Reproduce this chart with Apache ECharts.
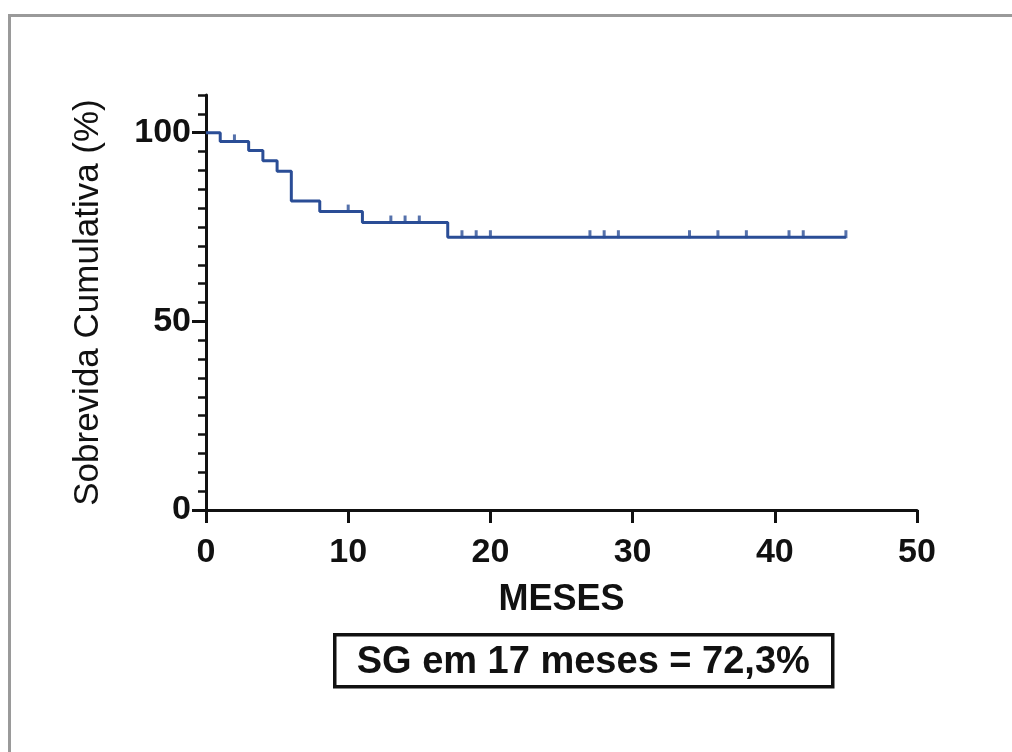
<!DOCTYPE html>
<html>
<head>
<meta charset="utf-8">
<script src="https://cdn.jsdelivr.net/npm/echarts@6/dist/echarts.min.js"></script>
<style>
  html, body { margin: 0; padding: 0; background: #fff; }
  #chart { width: 1012px; height: 752px; }
</style>
</head>
<body>
<div id="chart"></div>
<script>
// Kaplan-Meier overall survival: event times (months) and survival after each step (%)
const eventMonths = [0, 1, 3, 4, 5, 6, 8, 11, 17, 45];
const survivalPct = [100, 97.7, 95.3, 92.6, 89.8, 81.9, 79.1, 76.2, 72.3, 72.3];
// Censored patients (months of last follow-up)
const censorMonths = [2, 10, 13, 14, 15, 18, 19, 20, 27, 28, 29, 34, 36, 38, 41, 42, 45];
// Axis ticks
const xTicks = [0, 10, 20, 30, 40, 50];
const yMajorTicks = [0, 50, 100];
const annotation = 'SG em 17 meses = 72,3%';

// survival level in force at time t (step function from the event arrays)
function survivalAt(t) {
  let s = survivalPct[0];
  for (let i = 0; i < eventMonths.length; i++) {
    if (eventMonths[i] <= t) s = survivalPct[i];
  }
  return s;
}

const curveData = eventMonths.map((m, i) => [m, survivalPct[i]]);
const censorData = censorMonths.map(m => [m, survivalAt(m)]);

const FONT = '"Liberation Sans", Arial, sans-serif';
const BLUE = '#2a4d96';

const chart = echarts.init(document.getElementById('chart'), null, { renderer: 'canvas' });
chart.setOption({
  animation: false,
  backgroundColor: '#ffffff',
  grid: { left: 206, right: 95, top: 95, bottom: 242, containLabel: false },
  xAxis: {
    type: 'value',
    min: xTicks[0],
    max: xTicks[xTicks.length - 1],
    interval: 10,
    name: 'MESES',
    nameLocation: 'middle',
    nameGap: 72,
    nameTextStyle: { fontFamily: FONT, fontWeight: 'bold', fontSize: 36, color: '#111' },
    axisLine: { onZero: false, lineStyle: { color: '#111', width: 3 } },
    axisTick: { show: true, inside: false, length: 13, lineStyle: { color: '#111', width: 3 } },
    axisLabel: { margin: 26, fontFamily: FONT, fontWeight: 'bold', fontSize: 34, color: '#111' },
    splitLine: { show: false }
  },
  yAxis: [
    {
      type: 'value',
      min: 0,
      max: 110,
      name: 'Sobrevida Cumulativa (%)',
      nameLocation: 'middle',
      nameRotate: 90,
      nameGap: 100,
      nameTextStyle: { fontFamily: FONT, fontSize: 35, color: '#111' },
      axisLine: { show: true, onZero: false, lineStyle: { color: '#111', width: 3 } },
      axisTick: { show: true, inside: false, length: 14, customValues: yMajorTicks,
                  lineStyle: { color: '#111', width: 3 } },
      axisLabel: { margin: 15, customValues: yMajorTicks, fontFamily: FONT, fontWeight: 'bold',
                   fontSize: 34, color: '#111' },
      splitLine: { show: false }
    },
    {
      // minor ticks every 5 %
      type: 'value',
      position: 'left',
      min: 0,
      max: 110,
      interval: 5,
      axisLine: { show: false },
      axisTick: { show: true, inside: false, length: 8, lineStyle: { color: '#111', width: 2.5 } },
      axisLabel: { show: false },
      splitLine: { show: false }
    }
  ],
  series: [
    {
      type: 'line',
      step: 'end',
      data: curveData,
      showSymbol: false,
      symbol: 'none',
      lineStyle: { color: BLUE, width: 3 },
      z: 3
    },
    {
      type: 'scatter',
      data: censorData,
      symbol: 'rect',
      symbolSize: [3, 8],
      symbolOffset: [0, -3],
      itemStyle: { color: BLUE },
      z: 4
    }
  ],
  graphic: [
    {
      type: 'rect',
      shape: { x: 9.5, y: 15.5, width: 1100, height: 900 },
      style: { fill: 'none', stroke: '#9a9a9a', lineWidth: 3 },
      silent: true
    },
    {
      type: 'group',
      left: 333,
      top: 633,
      children: [
        {
          type: 'rect',
          shape: { x: 1.5, y: 1.5, width: 498, height: 52 },
          style: { fill: '#fff', stroke: '#111', lineWidth: 3.5 }
        },
        {
          type: 'text',
          x: 250,
          y: 29,
          style: {
            text: annotation,
            fontFamily: FONT,
            fontWeight: 'bold',
            fontSize: 38,
            fill: '#111',
            align: 'center',
            verticalAlign: 'middle'
          }
        }
      ]
    }
  ]
});
</script>
</body>
</html>
